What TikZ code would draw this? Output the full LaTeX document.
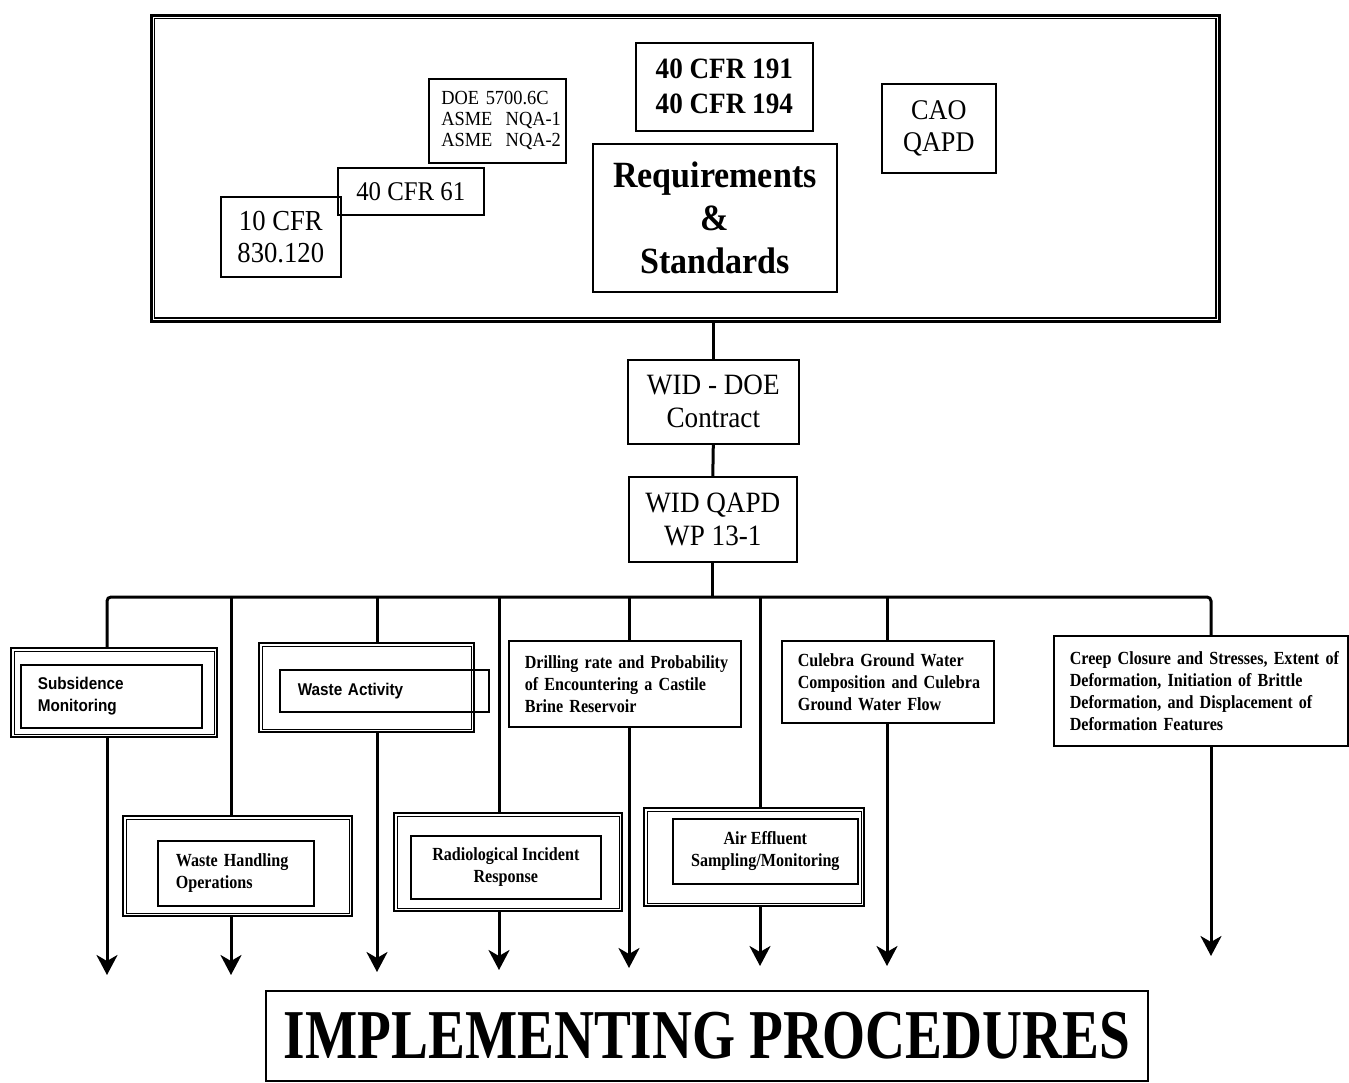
\documentclass[tikz,border=0pt]{standalone}
\usepackage{fontspec}
\setmainfont{Liberation Serif}
\setsansfont{Liberation Sans}
\newfontfamily\cond[FakeStretch=0.92]{Liberation Serif}
\newfontfamily\condl[FakeStretch=0.87]{Liberation Serif}
\newfontfamily\condi[FakeStretch=0.79]{Liberation Serif}
\newfontfamily\sansc[FakeStretch=0.9]{Liberation Sans}
\usetikzlibrary{arrows.meta,calc}
\newcommand\myfs[2]{\fontsize{#1}{#2}\selectfont}
\newcommand\lline[1]{\mbox{#1}}
\begin{document}
\begin{tikzpicture}[x=1pt,y=-1pt,
  box/.style={draw, line width=1.6pt, inner sep=0pt, anchor=north west, align=center},
  dbl/.style={draw, line width=2.2pt, anchor=north west, inner sep=0pt},
  innerline/.style={line width=1pt},
  topframe/.style={draw, line width=2.6pt, anchor=north west, inner sep=0pt},
  lowf/.style={font=\condl\bfseries\myfs{18.5}{22}},
  sansf/.style={font=\sansc\bfseries\myfs{17}{22}},
  conn/.style={line width=3pt},
  arr/.style={line width=3pt, -{Stealth[length=20pt,width=21pt,inset=6pt]}}
]
\fill[white] (0,0) rectangle (1349,1083);
\useasboundingbox (0,0) rectangle (1349,1083);

% ---------- top frame ----------
\node[topframe, minimum width=1068pt, minimum height=306pt] (top) at (150,14) {};
\draw[line width=1.3pt] ($(top.north west)+(4.5,4.5)$) rectangle ($(top.south east)+(-4.5,-4.5)$);
\node[box, minimum width=120pt, minimum height=80pt, font=\cond\myfs{29}{32}] (cfr10) at (220,196) {10 CFR\\830.120};
\node[box, minimum width=146pt, minimum height=47pt, font=\cond\myfs{27}{30}] (cfr61) at (337,167) {40 CFR 61};
\node[box, minimum width=137pt, minimum height=84pt, font=\cond\myfs{20}{21}, align=left, text width=112pt] (doe) at (428,78) {\lline{DOE 5700.6C}\\\lline{ASME\ \ NQA-1}\\\lline{ASME\ \ NQA-2}};
\node[box, minimum width=177pt, minimum height=88pt, font=\cond\bfseries\myfs{29.5}{35}] (cfr191) at (635,42) {40 CFR 191\\40 CFR 194};
\node[box, minimum width=244pt, minimum height=148pt, font=\cond\bfseries\myfs{37}{43}] (req) at (592,143) {Requirements\\\&\\Standards};
\node[box, minimum width=114pt, minimum height=89pt, font=\cond\myfs{28.5}{32}] (cao) at (881,83) {CAO\\QAPD};

% ---------- middle ----------
\node[box, minimum width=171pt, minimum height=84pt, font=\cond\myfs{29.5}{33}] (wd) at (627,359) {WID - DOE\\Contract};
\node[box, minimum width=168pt, minimum height=85pt, font=\cond\myfs{29.5}{33}] (wq) at (628,476) {WID QAPD\\WP 13-1};

% ---------- lower boxes ----------
\node[dbl, minimum width=206pt, minimum height=89pt] (subo) at (10,647) {};
\node[box, sansf, minimum width=181pt, minimum height=63pt, align=left, text width=147pt] (sub) at (20,664) {\lline{Subsidence}\\\lline{Monitoring}};

\node[dbl, minimum width=215pt, minimum height=89pt] (wao) at (258,642) {};
\node[box, sansf, minimum width=209pt, minimum height=42pt, align=left, text width=173pt] (wa) at (279,669) {\lline{Waste Activity}};

\node[box, lowf, minimum width=232pt, minimum height=86pt, align=left, text width=200pt] (dr) at (508,640) {\lline{Drilling rate and Probability}\\\lline{of Encountering a Castile}\\\lline{Brine Reservoir}};
\node[box, lowf, minimum width=212pt, minimum height=82pt, align=left, text width=180pt] (cu) at (781,640) {\lline{Culebra Ground Water}\\\lline{Composition and Culebra}\\\lline{Ground Water Flow}};
\node[box, lowf, minimum width=294pt, minimum height=110pt, align=left, text width=262pt] (creep) at (1053,635) {\lline{Creep Closure and Stresses, Extent of}\\\lline{Deformation, Initiation of Brittle}\\\lline{Deformation, and Displacement of}\\\lline{Deformation Features}};

\node[dbl, minimum width=229pt, minimum height=100pt] (who) at (122,815) {};
\node[box, lowf, minimum width=156pt, minimum height=65pt, align=left, text width=120pt] (wh) at (157,840) {\lline{Waste Handling}\\\lline{Operations}};

\node[dbl, minimum width=228pt, minimum height=98pt] (rio) at (393,812) {};
\node[box, lowf, minimum width=190pt, minimum height=63pt] (ri) at (410,835) {Radiological Incident\\Response};

\node[dbl, minimum width=220pt, minimum height=98pt] (aio) at (643,807) {};
\node[box, lowf, minimum width=185pt, minimum height=65pt] (ai) at (672,818) {Air Effluent\\Sampling/Monitoring};

\foreach \n in {subo,wao,who,rio,aio}
  \draw[innerline] ($(\n.north west)+(4,4)$) rectangle ($(\n.south east)+(-4,-4)$);

\node[box, line width=2pt, minimum width=882pt, minimum height=90pt, font=\condi\bfseries\myfs{70}{70}] (impl) at (265,990) {IMPLEMENTING PROCEDURES};

% ---------- bus coordinates ----------
\coordinate (b1) at (107,597);
\coordinate (b2) at (231,597);
\coordinate (b3) at (377,597);
\coordinate (b4) at (499,597);
\coordinate (b5) at (629,597);
\coordinate (b6) at (760,597);
\coordinate (b7) at (887,597);
\coordinate (b8) at (1211,597);
\coordinate (e1) at (107,975);
\coordinate (e2) at (231,975);
\coordinate (e3) at (377,972);
\coordinate (e4) at (499,970);
\coordinate (e5) at (629,968);
\coordinate (e6) at (760,966);
\coordinate (e7) at (887,966);
\coordinate (e8) at (1211,956);

% ---------- connectors ----------
\draw[conn] (wd.north |- top.south) -- (wd.north);
\draw[conn] (wd.south) -- (wq.north);
\draw[conn] (wq.south) -- (wq.south |- b1);
\draw[conn, rounded corners=4pt] (b1 |- subo.north) -- (b1) -- (b8) -- (b8 |- creep.north);
\draw[conn] (b2) -- (b2 |- who.north);
\draw[conn] (b3) -- (b3 |- wao.north);
\draw[conn] (b4) -- (b4 |- rio.north);
\draw[conn] (b5) -- (b5 |- dr.north);
\draw[conn] (b6) -- (b6 |- aio.north);
\draw[conn] (b7) -- (b7 |- cu.north);

\draw[arr] (b1 |- subo.south) -- (e1);
\draw[arr] (b2 |- who.south) -- (e2);
\draw[arr] (b3 |- wao.south) -- (e3);
\draw[arr] (b4 |- rio.south) -- (e4);
\draw[arr] (b5 |- dr.south) -- (e5);
\draw[arr] (b6 |- aio.south) -- (e6);
\draw[arr] (b7 |- cu.south) -- (e7);
\draw[arr] (b8 |- creep.south) -- (e8);
\end{tikzpicture}
\end{document}
